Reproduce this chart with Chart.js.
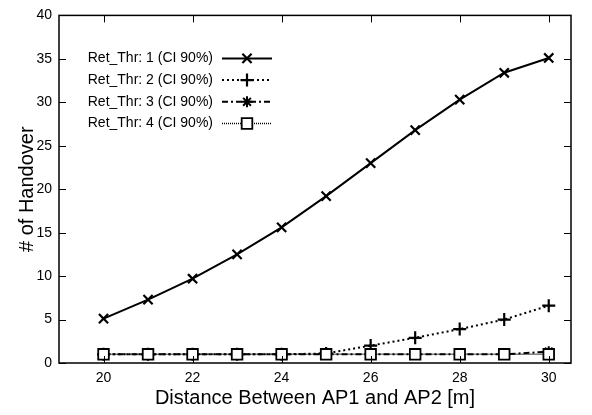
<!DOCTYPE html>
<html><head><meta charset="utf-8">
<script src="https://cdn.jsdelivr.net/npm/chart.js@4/dist/chart.umd.min.js"></script>
<style>html,body{margin:0;padding:0;background:#fff}#wrap{width:592px;height:415px}</style>
</head><body><div id="wrap"><canvas id="c" width="592" height="415"></canvas></div>
<script>
const distances = [20,21,22,23,24,25,26,27,28,29,30];
const thr1 = [5.1,7.3,9.7,12.5,15.6,19.2,23.0,26.8,30.3,33.4,35.1];
const thr2 = [1.0,1.0,1.0,1.0,1.0,1.1,2.0,2.9,3.9,5.0,6.6];
const thr3 = [1.0,1.0,1.0,1.0,1.0,1.0,1.0,1.0,1.0,1.0,1.3];
const thr4 = [1.0,1.0,1.0,1.0,1.0,1.0,1.0,1.0,1.0,1.0,1.0];
const seriesNames = ['Ret_Thr: 1 (CI 90%)','Ret_Thr: 2 (CI 90%)','Ret_Thr: 3 (CI 90%)','Ret_Thr: 4 (CI 90%)'];
const xTicks = [20,22,24,26,28,30];
const yTicks = [0,5,10,15,20,25,30,35,40];

const FONT = '"Liberation Sans", Arial, Helvetica, sans-serif';
const pts = arr => arr.map((v,i)=>({x:distances[i],y:v}));

const styles = [
  {dash:[], width:2, point:'crossRot', radius:6.5, pw:2.2, fill:'#000'},
  {dash:[2,3], width:2, point:'cross', radius:6.5, pw:2.2, fill:'#000'},
  {dash:[6,3,2,3], width:2, point:'star', radius:5.5, pw:2, fill:'#000'},
  {dash:[1,1], width:1.5, point:'rect', radius:7.5, pw:1.8, fill:'#fff'}
];
const orders = [0,2,3,1];
const datasets = [thr1,thr2,thr3,thr4].map((d,i)=>({
  label: seriesNames[i], data: pts(d), order: orders[i],
  borderColor:'#000', borderWidth: styles[i].width, borderDash: styles[i].dash,
  pointStyle: styles[i].point, pointRadius: styles[i].radius, pointHoverRadius: styles[i].radius,
  pointBorderColor:'#000', pointBackgroundColor: styles[i].fill, pointBorderWidth: styles[i].pw,
  tension:0, fill:false
}));

const framePlugin = {
  id:'frame',
  afterDatasetsDraw(chart){
    const {ctx, chartArea:a, scales:{x,y}} = chart;
    ctx.save();
    ctx.strokeStyle='#000'; ctx.lineWidth=1.5; ctx.setLineDash([]);
    ctx.strokeRect(a.left, a.top, a.right-a.left, a.bottom-a.top);
    ctx.lineWidth=1;
    const tl=7;
    xTicks.forEach(v=>{const px=Math.round(x.getPixelForValue(v))+0.5;
      ctx.beginPath();ctx.moveTo(px,a.bottom);ctx.lineTo(px,a.bottom-tl);ctx.moveTo(px,a.top);ctx.lineTo(px,a.top+tl);ctx.stroke();});
    yTicks.forEach(v=>{const py=Math.round(y.getPixelForValue(v))+0.5;
      ctx.beginPath();ctx.moveTo(a.left,py);ctx.lineTo(a.left+tl,py);ctx.moveTo(a.right,py);ctx.lineTo(a.right-tl,py);ctx.stroke();});
    // legend
    ctx.font='14px '+FONT; ctx.fillStyle='#000'; ctx.textAlign='right'; ctx.textBaseline='middle';
    const rowY0 = a.top+43, dy=21.7, textX=213, l0=222, l1=272;
    seriesNames.forEach((n,i)=>{
      const ry=rowY0+i*dy;
      ctx.fillText(n,textX,ry);
      const s=styles[i];
      ctx.lineWidth=s.width; ctx.setLineDash(s.dash); ctx.strokeStyle='#000';
      ctx.beginPath();ctx.moveTo(l0,ry);ctx.lineTo(l1,ry);ctx.stroke();
      ctx.setLineDash([]);
      ctx.fillStyle=s.fill; ctx.lineWidth=s.pw;
      Chart.helpers.drawPoint(ctx,{pointStyle:s.point,radius:s.radius,borderWidth:s.pw,rotation:0},(l0+l1)/2,ry);
      ctx.fillStyle='#000';
    });
    ctx.restore();
  }
};

new Chart(document.getElementById('c'), {
  type:'line',
  data:{datasets},
  options:{
    responsive:false, animation:false,
    layout:{padding:{top:13,right:21,left:0,bottom:0}},
    plugins:{legend:{display:false}, tooltip:{enabled:false}},
    scales:{
      x:{type:'linear', min:19, max:30.5,
        afterBuildTicks(s){s.ticks = xTicks.map(v=>({value:v}));},
        afterFit(s){s.height=52;},
        grid:{display:false, drawTicks:false}, border:{display:false},
        ticks:{font:{family:FONT,size:14}, color:'#000', padding:7, maxRotation:0},
        title:{display:true, text:'Distance Between AP1 and AP2 [m]', font:{family:FONT,size:20}, color:'#000', padding:{top:0,bottom:5}}
      },
      y:{min:0, max:40,
        afterBuildTicks(s){s.ticks = yTicks.map(v=>({value:v}));},
        afterFit(s){s.width=59;},
        grid:{display:false, drawTicks:false}, border:{display:false},
        ticks:{font:{family:FONT,size:14}, color:'#000', padding:7},
        title:{display:true, text:'# of Handover', font:{family:FONT,size:20}, color:'#000', padding:{top:15,bottom:0}}
      }
    }
  },
  plugins:[framePlugin]
});
</script></body></html>
